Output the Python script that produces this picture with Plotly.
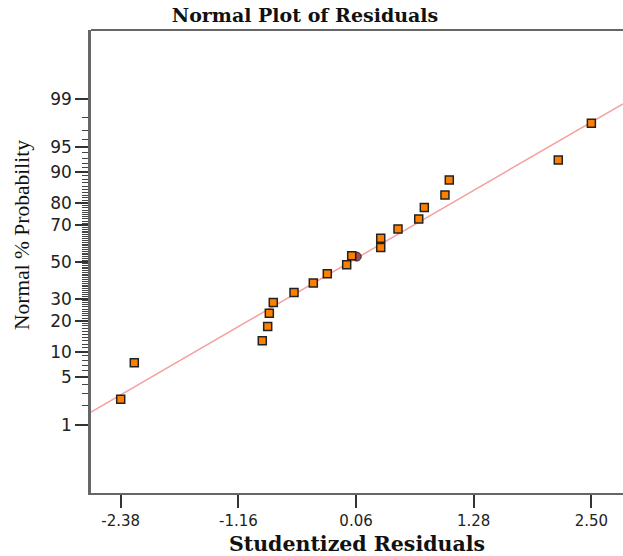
from statistics import NormalDist
import plotly.graph_objects as go

# ---- data ----
residuals = [-2.38, -2.239, -0.912, -0.856, -0.839, -0.798, -0.583, -0.383, -0.238,
             -0.037, 0.015, 0.316, 0.316, 0.495, 0.710, 0.768, 0.982, 1.027, 2.157, 2.50]
probabilities = [2.5, 7.5, 13.0, 17.8, 23.2, 28.1, 33.1, 38.1, 43.2,
                 48.3, 53.4, 58.1, 63.2, 68.1, 73.0, 78.1, 83.0, 87.9, 92.7, 97.6]
highlight_residual = [0.067]
highlight_probability = [53.0]

x_tick_values = [-2.38, -1.16, 0.06, 1.28, 2.50]
x_tick_labels = ["-2.38", "-1.16", "0.06", "1.28", "2.50"]
y_major_pct = [1, 5, 10, 20, 30, 50, 70, 80, 90, 95, 99]
y_major_labels = ["1", "5", "10", "20", "30", "50", "70", "80", "90", "95", "99"]
y_minor_pct = [p for p in range(1, 100) if p not in y_major_pct]

fit_slope = 0.798       # z-score per studentized residual
fit_intercept = 0.0
x_range = [-2.688, 2.828]
z_range = [-3.30, 3.31]

nd = NormalDist()
def z(p):
    return nd.inv_cdf(p / 100.0)

W, H = 623, 556
ML, MR, MT, MB = 91, 0, 30, 63

fig = go.Figure()

# reference line
line_x = x_range
line_z = [fit_intercept + fit_slope * v for v in line_x]
fig.add_trace(go.Scatter(x=line_x, y=line_z, mode="lines",
                         line=dict(color="#f5a0a0", width=1.5),
                         hoverinfo="skip", showlegend=False))

fig.add_trace(go.Scatter(x=highlight_residual, y=[z(p) for p in highlight_probability],
                         mode="markers",
                         marker=dict(symbol="circle", size=9, color="#a04a5c",
                                     line=dict(color="#3a2020", width=1)),
                         showlegend=False))

fig.add_trace(go.Scatter(x=residuals, y=[z(p) for p in probabilities], mode="markers",
                         marker=dict(symbol="square", size=8, color="#ff8000",
                                     line=dict(color="#222222", width=1.5)),
                         showlegend=False))

plot_h = H - MT - MB
fig.add_annotation(text="Normal % Probability", textangle=-90,
                   xref="paper", x=0, xanchor="center", xshift=-(ML - 21.5),
                   yref="paper", y=(H - MB - 235.5) / plot_h, yanchor="middle",
                   showarrow=False,
                   font=dict(family="Liberation Serif", size=21.5, color="#111111"))

# top frame line (the reference frame is open on the right)
fig.add_shape(type="line", xref="paper", yref="paper", x0=0, x1=1, y0=1, y1=1,
              line=dict(color="#333333", width=1.5))

fig.update_layout(
    width=W, height=H,
    margin=dict(l=ML, r=MR, t=MT, b=MB),
    plot_bgcolor="white", paper_bgcolor="white",
    title=dict(text="<b>Normal Plot of Residuals</b>",
               font=dict(family="DejaVu Serif", size=19, color="#111111"),
               x=305 / W, xanchor="center", xref="container",
               y=1 - 15 / H, yref="container", yanchor="middle"),
    xaxis=dict(range=x_range, tickmode="array", tickvals=x_tick_values, ticktext=x_tick_labels,
               ticks="outside", ticklen=13, tickwidth=1.5, tickcolor="#333333",
               showgrid=False, zeroline=False,
               showline=True, linecolor="#666666", linewidth=2, mirror=False,
               tickfont=dict(family="DejaVu Sans", size=15, color="#222222"),
               title=dict(text="<b>Studentized Residuals</b>", standoff=10,
                          font=dict(family="DejaVu Serif", size=20.5, color="#111111"))),
    yaxis=dict(range=z_range, tickmode="array",
               tickvals=[z(p) for p in y_major_pct], ticktext=y_major_labels,
               ticks="outside", ticklen=13, tickwidth=1.5, tickcolor="#333333",
               minor=dict(tickmode="array", tickvals=[z(p) for p in y_minor_pct],
                          ticks="outside", ticklen=6, tickwidth=1, tickcolor="#444444",
                          showgrid=False),
               showgrid=False, zeroline=False,
               showline=True, linecolor="#666666", linewidth=2.5, mirror=False,
               tickfont=dict(family="DejaVu Sans", size=17, color="#222222")),
)

fig.write_html("out.html", config={"displayModeBar": False},
               post_script="document.body.style.margin='0';")
